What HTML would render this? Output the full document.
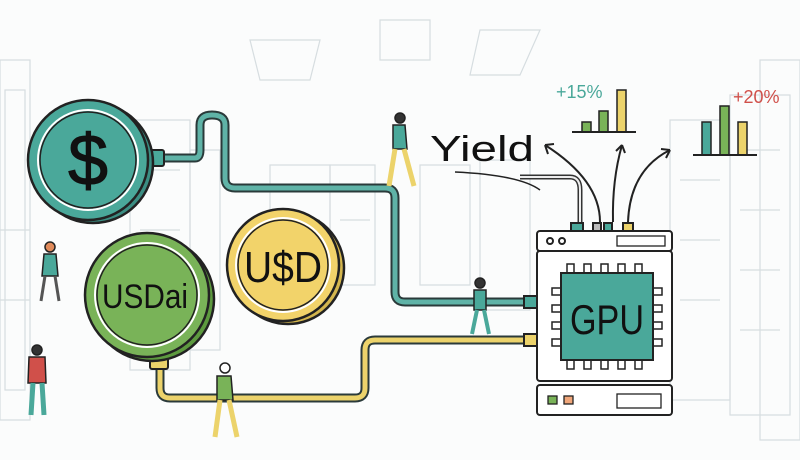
<!DOCTYPE html>
<html><head><style>
html,body{margin:0;padding:0;background:#fff;}
svg{display:block;}
text{font-family:"Liberation Sans Narrow","Liberation Sans","DejaVu Sans",sans-serif;}
</style></head><body>
<svg width="800" height="460" viewBox="0 0 800 460" xmlns="http://www.w3.org/2000/svg">
<rect width="800" height="460" fill="#fbfcfc"/>
<g fill="none" stroke="#d6dde0" stroke-width="1.2">
<path d="M250 40 L320 40 L310 80 L260 80 Z"/><path d="M380 20 L430 20 L430 60 L380 60Z"/><path d="M480 30 L540 30 L520 75 L470 75Z"/>
<rect x="0" y="60" width="30" height="360"/><rect x="5" y="90" width="20" height="300"/>
<rect x="130" y="120" width="60" height="250"/><rect x="190" y="150" width="30" height="200"/>
<rect x="270" y="165" width="60" height="120"/><rect x="330" y="165" width="45" height="120"/>
<rect x="420" y="165" width="50" height="120"/>
<rect x="480" y="160" width="50" height="150"/>
<rect x="670" y="120" width="60" height="280"/><rect x="730" y="95" width="60" height="320"/>
<rect x="760" y="60" width="40" height="380"/>
<path d="M680 180 h40 M680 240 h40 M680 300 h40 M740 150 h40 M740 210 h40 M740 270 h40 M740 330 h40 M140 170 h40 M140 230 h40 M140 290 h40 M0 230 h30 M0 300 h30 M280 190 h40 M280 220 h40 M340 190 h30 M340 220 h30"/>
</g>
<path d="M163 158 H195 Q200 158 200 150 V125 Q200 115 212 115 Q225 115 225 125 V178 Q225 188 235 188 H385 Q395 188 395 198 V292 Q395 302 405 302 H528" fill="none" stroke="#2a3a3a" stroke-width="9" stroke-linecap="round"/>
<path d="M163 158 H195 Q200 158 200 150 V125 Q200 115 212 115 Q225 115 225 125 V178 Q225 188 235 188 H385 Q395 188 395 198 V292 Q395 302 405 302 H528" fill="none" stroke="#5fb3a7" stroke-width="5" stroke-linecap="round"/>
<path d="M160 365 V388 Q160 398 170 398 H355 Q365 398 365 388 V350 Q365 340 375 340 H528" fill="none" stroke="#2a3a3a" stroke-width="9" stroke-linecap="round"/>
<path d="M160 365 V388 Q160 398 170 398 H355 Q365 398 365 388 V350 Q365 340 375 340 H528" fill="none" stroke="#ecd36b" stroke-width="5" stroke-linecap="round"/>
<rect x="148" y="150" width="16" height="16" rx="2" fill="#4aa89a" stroke="#222" stroke-width="2"/>
<circle cx="93" cy="163" r="60" fill="#3b8e83" stroke="#222" stroke-width="2.5"/>
<circle cx="88" cy="160" r="60" fill="#4aa89a" stroke="#222" stroke-width="2.5"/>
<circle cx="88" cy="160" r="50" fill="none" stroke="#fff" stroke-width="2"/>
<circle cx="88" cy="160" r="48" fill="none" stroke="#222" stroke-width="1.5"/>
<text x="88" y="185" font-size="72" text-anchor="middle" fill="#111" stroke="#111" stroke-width="1">$</text>
<circle cx="288" cy="268" r="56" fill="#d4b64e" stroke="#222" stroke-width="2.5"/>
<circle cx="283" cy="265" r="56" fill="#f2d36a" stroke="#222" stroke-width="2.5"/>
<circle cx="283" cy="265" r="47" fill="none" stroke="#fff" stroke-width="2"/>
<circle cx="283" cy="265" r="45" fill="none" stroke="#222" stroke-width="1.5"/>
<text x="283" y="282" font-size="44" text-anchor="middle" fill="#111" textLength="78" lengthAdjust="spacingAndGlyphs">U$D</text>
<rect x="150" y="355" width="18" height="14" rx="2" fill="#ecd36b" stroke="#222" stroke-width="2"/>
<circle cx="152" cy="299" r="62" fill="#5d9a3f" stroke="#222" stroke-width="2.5"/>
<circle cx="147" cy="295" r="62" fill="#79b358" stroke="#222" stroke-width="2.5"/>
<circle cx="147" cy="295" r="52" fill="none" stroke="#fff" stroke-width="2"/>
<circle cx="147" cy="295" r="50" fill="none" stroke="#222" stroke-width="1.5"/>
<text x="145" y="308" font-size="34" text-anchor="middle" fill="#111" textLength="86" lengthAdjust="spacingAndGlyphs">USDai</text>
<text x="430" y="161" font-size="36" fill="#111" textLength="104" lengthAdjust="spacingAndGlyphs">Yield</text>
<path d="M455 172 Q520 175 540 190" fill="none" stroke="#222" stroke-width="1.5"/>
<g fill="none" stroke="#222" stroke-width="2">
<path d="M600 222 Q600 180 545 145"/><path d="M545 145 l3 9 M545 145 l9 -1"/>
<path d="M613 222 Q612 180 622 145"/><path d="M622 145 l-6 6 M622 145 l3 8"/>
<path d="M628 222 Q630 170 670 150"/><path d="M670 150 l-9 -1 M670 150 l-4 8"/>
<path d="M520 177 H570 Q580 177 580 190 V222" stroke="#333" stroke-width="5"/>
<path d="M520 177 H570 Q580 177 580 190 V222" stroke="#eee" stroke-width="2"/>
</g>
<text x="556" y="98" font-size="18" fill="#4aa89a">+15%</text>
<rect x="582" y="122" width="9" height="10" fill="#79b358" stroke="#222" stroke-width="1.5"/>
<rect x="599" y="111" width="9" height="21" fill="#79b358" stroke="#222" stroke-width="1.5"/>
<rect x="617" y="90" width="9" height="42" fill="#ecd36b" stroke="#222" stroke-width="1.5"/>
<path d="M572 132 H636" stroke="#222" stroke-width="2"/>
<text x="733" y="103" font-size="18" fill="#d0504a">+20%</text>
<rect x="702" y="122" width="9" height="33" fill="#4aa89a" stroke="#222" stroke-width="1.5"/>
<rect x="720" y="106" width="9" height="49" fill="#79b358" stroke="#222" stroke-width="1.5"/>
<rect x="738" y="122" width="9" height="33" fill="#ecd36b" stroke="#222" stroke-width="1.5"/>
<path d="M693 155 H757" stroke="#222" stroke-width="2"/>
<g stroke="#222" stroke-width="2">
<rect x="571" y="223" width="12" height="8" fill="#4aa89a"/><rect x="593" y="223" width="8" height="8" fill="#bbb"/><rect x="604" y="223" width="8" height="8" fill="#4aa89a"/><rect x="623" y="223" width="10" height="8" fill="#ecd36b"/>
<rect x="537" y="231" width="135" height="20" rx="3" fill="#fff"/>
<circle cx="550" cy="241" r="3" fill="none"/><circle cx="562" cy="241" r="3" fill="none"/>
<rect x="617" y="236" width="48" height="10" fill="#fff" stroke-width="1.3"/>
<rect x="537" y="251" width="135" height="130" rx="3" fill="#fff"/>
<rect x="524" y="296" width="13" height="12" fill="#4aa89a"/><rect x="524" y="334" width="13" height="12" fill="#ecd36b"/>
<g fill="#fff" stroke-width="1.5">
<rect x="567" y="264" width="7" height="9"/><rect x="584" y="264" width="7" height="9"/><rect x="601" y="264" width="7" height="9"/><rect x="618" y="264" width="7" height="9"/><rect x="635" y="264" width="7" height="9"/>
<rect x="567" y="360" width="7" height="9"/><rect x="584" y="360" width="7" height="9"/><rect x="601" y="360" width="7" height="9"/><rect x="618" y="360" width="7" height="9"/><rect x="635" y="360" width="7" height="9"/>
<rect x="552" y="288" width="9" height="7"/><rect x="552" y="305" width="9" height="7"/><rect x="552" y="322" width="9" height="7"/><rect x="552" y="339" width="9" height="7"/>
<rect x="653" y="288" width="9" height="7"/><rect x="653" y="305" width="9" height="7"/><rect x="653" y="322" width="9" height="7"/><rect x="653" y="339" width="9" height="7"/>
</g>
<rect x="561" y="273" width="92" height="87" fill="#4aa89a"/>
<rect x="537" y="385" width="135" height="30" rx="3" fill="#fff"/>
<rect x="548" y="396" width="9" height="8" fill="#79b358" stroke-width="1.3"/><rect x="564" y="396" width="9" height="8" fill="#f0a67a" stroke-width="1.3"/>
<rect x="617" y="394" width="44" height="14" fill="#fff" stroke-width="1.3"/>
</g>
<text x="607" y="334" font-size="42" text-anchor="middle" fill="#111" textLength="74" lengthAdjust="spacingAndGlyphs">GPU</text>
<g stroke="#222" stroke-width="1.5">
<circle cx="50" cy="247" r="5" fill="#e08a5a"/><path d="M44 254 h12 l2 22 h-16z" fill="#4aa89a"/><path d="M45 276 l-4 25 M55 276 l4 25" stroke-width="3" stroke="#555"/>
<circle cx="37" cy="350" r="5" fill="#333"/><path d="M29 357 h16 l1 26 h-18z" fill="#d0504a"/><path d="M33 383 l-2 32 M42 383 l2 32" stroke-width="5" stroke="#4aa89a"/>
<circle cx="400" cy="118" r="5" fill="#333"/><path d="M393 125 h12 l2 24 h-14z" fill="#4aa89a"/><path d="M395 149 l-6 37 M404 149 l10 37" stroke-width="5" stroke="#ecd36b"/>
<circle cx="480" cy="283" r="5" fill="#333"/><path d="M474 290 h12 v20 h-12z" fill="#4aa89a"/><path d="M477 310 l-5 24 M484 310 l5 24" stroke-width="4" stroke="#4aa89a"/>
<circle cx="225" cy="368" r="5" fill="#fff"/><path d="M217 376 h14 l2 24 h-16z" fill="#79b358"/><path d="M220 400 l-5 37 M229 400 l8 37" stroke-width="5" stroke="#ecd36b"/>
</g>
</svg>
</body></html>
